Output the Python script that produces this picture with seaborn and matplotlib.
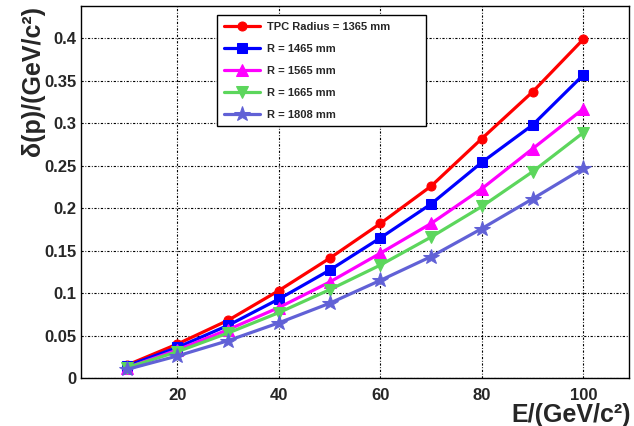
import matplotlib
matplotlib.use("Agg")
import matplotlib.pyplot as plt
import seaborn as sns
import pandas as pd
from matplotlib.ticker import MultipleLocator, FixedLocator, FuncFormatter

energy = [10, 20, 30, 40, 50, 60, 70, 80, 90, 100]
r1365 = [0.015, 0.040, 0.068, 0.103, 0.141, 0.182, 0.226, 0.282, 0.337, 0.399]
r1465 = [0.014, 0.036, 0.062, 0.093, 0.127, 0.165, 0.205, 0.254, 0.298, 0.357]
r1565 = [0.012, 0.033, 0.057, 0.083, 0.113, 0.147, 0.182, 0.223, 0.270, 0.317]
r1665 = [0.012, 0.031, 0.053, 0.077, 0.104, 0.133, 0.166, 0.202, 0.243, 0.289]
r1808 = [0.010, 0.026, 0.044, 0.065, 0.088, 0.115, 0.143, 0.176, 0.211, 0.247]

labels = ["TPC Radius = 1365 mm", "R = 1465 mm", "R = 1565 mm",
          "R = 1665 mm", "R = 1808 mm"]
series = [r1365, r1465, r1565, r1665, r1808]
colors = ["#FF0000", "#0000FF", "#FF00FF", "#5CD65C", "#6161D6"]
markers = ["o", "s", "^", "v", "*"]
msizes = [6.5, 6.5, 8, 8, 11.5]

sns.set_style("white")
plt.rcParams["font.family"] = ["Liberation Sans", "DejaVu Sans"]
plt.rcParams["font.weight"] = "bold"

fig = plt.figure(figsize=(6.34, 4.26), dpi=100)
ax = fig.add_axes([0.1278, 0.1127, 0.8643, 0.8739])

for lab, vals, c, m, ms in zip(labels, series, colors, markers, msizes):
    df = pd.DataFrame({"E": energy, "dp": vals})
    sns.lineplot(data=df, x="E", y="dp", ax=ax, color=c, marker=m,
                 markersize=ms, markeredgecolor=c, linewidth=2.3,
                 label=lab, estimator=None)

ax.set_xlim(1, 109)
ax.set_ylim(0, 0.4385)

ax.xaxis.set_major_locator(FixedLocator([20, 40, 60, 80, 100]))
ax.xaxis.set_minor_locator(MultipleLocator(5))
ax.yaxis.set_major_locator(MultipleLocator(0.05))
ax.yaxis.set_minor_locator(MultipleLocator(0.01))
ax.yaxis.set_major_formatter(FuncFormatter(lambda v, p: f"{v:g}"))
ax.xaxis.set_major_formatter(FuncFormatter(lambda v, p: f"{v:g}"))

ax.tick_params(axis="both", which="major", direction="in", length=11,
               width=1, labelsize=12, color="black")
ax.tick_params(axis="both", which="minor", direction="in", length=5.5,
               width=1, color="black")
ax.tick_params(axis="y", which="major", pad=3)
ax.tick_params(axis="x", which="major", pad=7)
for t in ax.get_xticklabels() + ax.get_yticklabels():
    t.set_fontweight("bold")

ax.grid(True, which="major", color="black", linewidth=0.8,
        linestyle=(0, (2, 1.5, 0.8, 1.5)))
ax.set_axisbelow(True)
for s in ax.spines.values():
    s.set_color("black")
    s.set_linewidth(1)
    s.set_visible(True)

ax.set_xlabel("E/(GeV/c²)", fontsize=18, fontweight="bold", loc="right")
ax.set_ylabel("δ(p)/(GeV/c²)", fontsize=18, fontweight="bold", loc="top")
ax.xaxis.set_label_coords(1.003, -0.068)
ax.yaxis.set_label_coords(-0.066, 1.0)

leg = ax.legend(loc="upper left", bbox_to_anchor=(0.248, 0.688, 0.381, 0.287),
                mode="expand", borderaxespad=0, frameon=True, fancybox=False,
                edgecolor="black", framealpha=1, prop={"weight": "bold", "size": 8},
                handlelength=3.3, handletextpad=0.65, labelspacing=1.08,
                borderpad=0.6)
leg.get_frame().set_linewidth(1)

fig.savefig("out.png", dpi=100)
